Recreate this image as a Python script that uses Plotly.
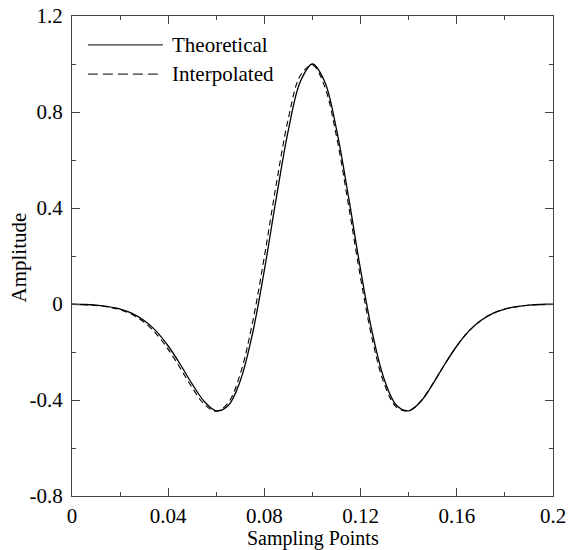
import plotly.graph_objects as go

# Sampling positions (s)
x_vals = [0.000, 0.005, 0.010, 0.015, 0.020, 0.025, 0.030, 0.035, 0.040, 0.045,
          0.050, 0.055, 0.060, 0.065, 0.070, 0.075, 0.080, 0.085, 0.090, 0.095,
          0.100, 0.105, 0.110, 0.115, 0.120, 0.125, 0.130, 0.135, 0.140, 0.145,
          0.150, 0.155, 0.160, 0.165, 0.170, 0.175, 0.180, 0.185, 0.190, 0.195, 0.200]

theoretical = [-0.001, -0.002, -0.005, -0.011, -0.021, -0.039, -0.069, -0.113, -0.175, -0.251,
               -0.334, -0.406, -0.445, -0.423, -0.319, -0.126, 0.142, 0.445, 0.727, 0.928,
               1.000, 0.928, 0.727, 0.445, 0.142, -0.126, -0.319, -0.423, -0.445, -0.406,
               -0.334, -0.251, -0.175, -0.113, -0.069, -0.039, -0.021, -0.011, -0.005, -0.002, -0.001]

interpolated = [-0.001, -0.003, -0.006, -0.012, -0.024, -0.044, -0.076, -0.124, -0.189, -0.267,
                -0.349, -0.418, -0.447, -0.411, -0.290, -0.080, 0.198, 0.503, 0.775, 0.953,
                0.995, 0.908, 0.697, 0.410, 0.108, -0.154, -0.337, -0.431, -0.445, -0.405,
                -0.333, -0.251, -0.175, -0.113, -0.069, -0.039, -0.021, -0.011, -0.005, -0.002, -0.001]

x_tickvals = [0, 0.04, 0.08, 0.12, 0.16, 0.2]
x_ticktext = ["0", "0.04", "0.08", "0.12", "0.16", "0.2"]
y_tickvals = [-0.8, -0.4, 0, 0.4, 0.8, 1.2]
y_ticktext = ["-0.8", "-0.4", "0", "0.4", "0.8", "1.2"]

series_names = ["Theoretical", "Interpolated"]
x_title = "Sampling Points"
y_title = "Amplitude"

FONT = "Liberation Serif, Times New Roman, serif"
FS = 21

fig = go.Figure()
fig.add_trace(go.Scatter(x=x_vals, y=theoretical, mode="lines", name=series_names[0],
                         line=dict(color="black", width=1.3, shape="spline", smoothing=1.0),
                         showlegend=False))
fig.add_trace(go.Scatter(x=x_vals, y=interpolated, mode="lines", name=series_names[1],
                         line=dict(color="black", width=1.1, dash="6px,4px", shape="spline", smoothing=1.0),
                         showlegend=False))

# manual legend (long line samples as in the reference)
# plot area spans x 72..553 px, y 16..496 px
legend_rows = [(0.94, "solid"), (0.879, "10px,5px")]
for (yy, dash), name in zip(legend_rows, series_names):
    fig.add_shape(type="line", xref="paper", yref="paper", x0=0.033, x1=0.189, y0=yy, y1=yy,
                  line=dict(color="#333", width=1.2, dash=dash))
    fig.add_annotation(xref="paper", yref="paper", x=0.204, y=yy, text=name, showarrow=False,
                       xanchor="left", yanchor="middle", font=dict(family=FONT, size=FS, color="black"))

# axis titles placed as in the reference
fig.add_annotation(xref="paper", yref="paper", x=0.5, y=-0.0885, text=x_title, showarrow=False,
                   xanchor="center", yanchor="middle", font=dict(family=FONT, size=20, color="black"))
fig.add_annotation(xref="paper", yref="paper", x=-0.110, y=0.497, text=y_title, showarrow=False,
                   textangle=-90, xanchor="center", yanchor="middle",
                   font=dict(family=FONT, size=FS, color="black"))

axis_common = dict(showline=True, linecolor="#444", linewidth=1.2, mirror="ticks",
                   ticks="inside", ticklen=8, tickwidth=1, tickcolor="#444",
                   showgrid=False, zeroline=False, automargin=False,
                   tickfont=dict(family=FONT, size=FS, color="black"))

fig.update_xaxes(range=[0, 0.2], tickmode="array", tickvals=x_tickvals, ticktext=x_ticktext,
                 minor=dict(ticks="inside", ticklen=4, dtick=0.02, tickcolor="#444", showgrid=False),
                 ticklabelstandoff=1, **axis_common)
fig.update_yaxes(range=[-0.8, 1.2], tickmode="array", tickvals=y_tickvals, ticktext=y_ticktext,
                 minor=dict(ticks="inside", ticklen=4, dtick=0.2, tickcolor="#444", showgrid=False),
                 ticklabelstandoff=4, **axis_common)

fig.update_layout(width=568, height=550, margin=dict(l=72, r=15, t=16, b=54),
                  plot_bgcolor="white", paper_bgcolor="white",
                  font=dict(family=FONT, color="black"))

fig.write_html("out.html")
